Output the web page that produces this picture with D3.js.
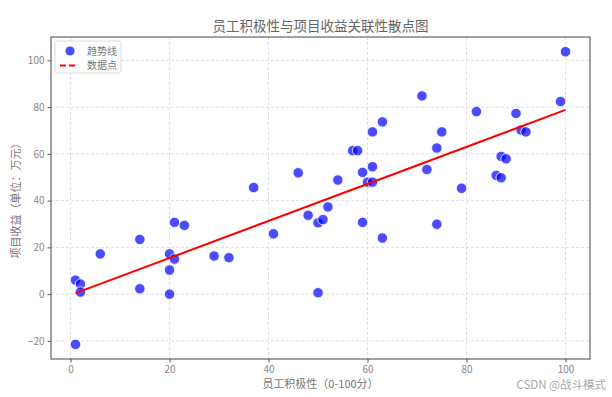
<!DOCTYPE html>
<html><head><meta charset="utf-8">
<script src="https://cdn.jsdelivr.net/npm/d3@7"></script>
<style>body{margin:0;background:#fff}svg{display:block}</style>
</head><body>
<script>
const titleText = "员工积极性与项目收益关联性散点图";
const xLabel = "员工积极性（0-100分）";
const yLabel = "项目收益（单位：万元）";
const legendLabels = ["趋势线", "数据点"];
const xTicks = [0, 20, 40, 60, 80, 100];
const yTicks = [-20, 0, 20, 40, 60, 80, 100];
const engagement = [1,1,2,2,6,14,14,20,21,23,21,20,20,29,32,37,46,54,52,57,58,59,60,61,61,61,63,71,72,48,50,51,41,59,63,50,100,99,82,90,75,91,92,74,87,88,86,87,79,74];
const revenue = [-21.5,6.0,4.3,0.9,17.2,23.4,2.3,17.2,30.7,29.4,15.0,10.3,0.0,16.3,15.6,45.6,51.9,48.8,37.3,61.4,61.4,52.1,47.9,47.9,54.5,69.4,73.7,84.8,53.3,33.7,30.5,31.9,25.8,30.7,24.0,0.6,103.7,82.4,78.1,77.3,69.4,70.2,69.4,62.5,58.9,57.9,50.8,49.8,45.3,29.9];
const trendX = [1, 100];
const trendY = [0.4, 78.8];

const W = 612, H = 397;
const m = {l: 51, r: 22, t: 37, b: 38};
const font = "'Noto Sans CJK SC','Noto Sans',sans-serif";
const svg = d3.select("body").append("svg").attr("width", W).attr("height", H)
  .style("font-family", font);

const x = d3.scaleLinear().domain([-3.95, 104.95]).range([m.l, W - m.r]);
const y = d3.scaleLinear().domain([-27.76, 110.0]).range([H - m.b, m.t]);

// grid
const g = svg.append("g");
g.selectAll(".gx").data(xTicks).join("line")
  .attr("x1", d => x(d)).attr("x2", d => x(d)).attr("y1", m.t).attr("y2", H - m.b)
  .attr("stroke", "#d8d8d8").attr("stroke-dasharray", "3,2").attr("stroke-width", 0.8);
g.selectAll(".gy").data(yTicks).join("line")
  .attr("y1", d => y(d)).attr("y2", d => y(d)).attr("x1", m.l).attr("x2", W - m.r)
  .attr("stroke", "#d8d8d8").attr("stroke-dasharray", "3,2").attr("stroke-width", 0.8);

// axes
const xa = svg.append("g").attr("transform", `translate(0,${H - m.b})`)
  .call(d3.axisBottom(x).tickValues(xTicks).tickSize(3.5).tickPadding(3));
const ya = svg.append("g").attr("transform", `translate(${m.l},0)`)
  .call(d3.axisLeft(y).tickValues(yTicks).tickSize(3.5).tickPadding(3).tickFormat(d => d < 0 ? "−" + Math.abs(d) : d));
[xa, ya].forEach(a => {
  a.select(".domain").remove();
  a.selectAll("line").attr("stroke", "#555");
  a.selectAll("text").attr("fill", "#888").style("font-size", "10px").style("font-family", font);
});

// scatter
svg.append("g").selectAll("circle").data(engagement).join("circle")
  .attr("cx", (d, i) => x(d)).attr("cy", (d, i) => y(revenue[i])).attr("r", 5.2)
  .attr("fill", "rgba(0,0,255,0.7)").attr("stroke", "#fff").attr("stroke-width", 0.8);

// trend line
svg.append("line")
  .attr("x1", x(trendX[0])).attr("y1", y(trendY[0]))
  .attr("x2", x(trendX[1])).attr("y2", y(trendY[1]))
  .attr("stroke", "#ff0000").attr("stroke-width", 2);

// frame
svg.append("rect").attr("x", m.l).attr("y", m.t).attr("width", W - m.r - m.l).attr("height", H - m.b - m.t)
  .attr("fill", "none").attr("stroke", "#555").attr("stroke-width", 1.1);

// legend
const lg = svg.append("g").attr("transform", `translate(${m.l + 4},${m.t + 4})`);
lg.append("rect").attr("width", 66).attr("height", 32).attr("rx", 2)
  .attr("fill", "rgba(255,255,255,0.8)").attr("stroke", "#ddd");
lg.append("circle").attr("cx", 15).attr("cy", 10).attr("r", 5)
  .attr("fill", "rgba(0,0,255,0.7)").attr("stroke", "#fff").attr("stroke-width", 0.8);
lg.append("line").attr("x1", 5).attr("x2", 23).attr("y1", 24.5).attr("y2", 24.5)
  .attr("stroke", "#ff0000").attr("stroke-width", 2).attr("stroke-dasharray", "6,3");
lg.selectAll("text").data(legendLabels).join("text")
  .attr("x", 32).attr("y", (d, i) => 10 + i * 14.5).attr("dy", "0.35em")
  .attr("fill", "#777").style("font-size", "10px").text(d => d);

// title & labels
svg.append("text").attr("x", (m.l + W - m.r) / 2).attr("y", 31).attr("text-anchor", "middle")
  .attr("fill", "#666").style("font-size", "13.5px").text(titleText);
svg.append("text").attr("x", (m.l + W - m.r) / 2).attr("y", 388).attr("text-anchor", "middle")
  .attr("fill", "#777").style("font-size", "11px").text(xLabel);
svg.append("text").attr("transform", `translate(20,${(m.t + H - m.b) / 2}) rotate(-90)`)
  .attr("text-anchor", "middle").attr("fill", "#777").style("font-size", "11px").text(yLabel);

// watermark
svg.append("text").attr("x", 606).attr("y", 389).attr("text-anchor", "end")
  .attr("fill", "#aaa").style("font-size", "11.5px").text("CSDN @战斗模式");
</script>
</body></html>
